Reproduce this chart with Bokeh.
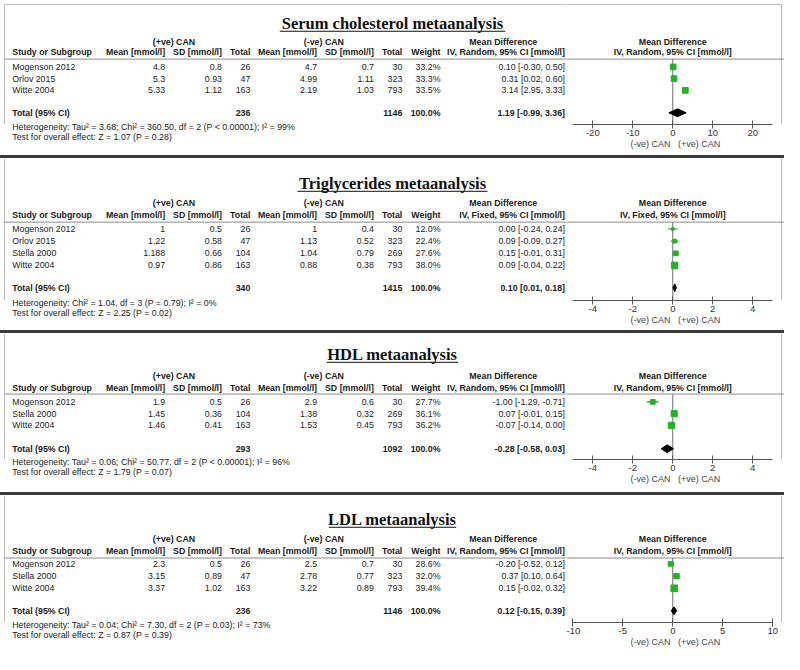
from bokeh.plotting import figure
from bokeh.models import Range1d, LinearAxis, ColumnDataSource, FixedTicker, Title
from bokeh.layouts import column, row
from bokeh.core.properties import value
from bokeh.embed import file_html
from bokeh.resources import INLINE

# ---------------- data ----------------
chol_studies = ["Mogenson 2012", "Orlov 2015", "Witte 2004"]
chol_pos_mean = [4.8, 5.3, 5.33]
chol_pos_sd = [0.8, 0.93, 1.12]
chol_pos_n = [26, 47, 163]
chol_neg_mean = [4.7, 4.99, 2.19]
chol_neg_sd = [0.7, 1.11, 1.03]
chol_neg_n = [30, 323, 793]
chol_weight = [33.2, 33.3, 33.5]
chol_md = [0.10, 0.31, 3.14]
chol_lo = [-0.30, 0.02, 2.95]
chol_hi = [0.50, 0.60, 3.33]
chol_total_n = [236, 1146]
chol_total = [1.19, -0.99, 3.36]
chol_ticks = [-20, -10, 0, 10, 20]
chol_bounds = [-25, 25]

tg_studies = ["Mogenson 2012", "Orlov 2015", "Stella 2000", "Witte 2004"]
tg_pos_mean = [1, 1.22, 1.188, 0.97]
tg_pos_sd = [0.5, 0.58, 0.66, 0.86]
tg_pos_n = [26, 47, 104, 163]
tg_neg_mean = [1, 1.13, 1.04, 0.88]
tg_neg_sd = [0.4, 0.52, 0.79, 0.38]
tg_neg_n = [30, 323, 269, 793]
tg_weight = [12.0, 22.4, 27.6, 38.0]
tg_md = [0.00, 0.09, 0.15, 0.09]
tg_lo = [-0.24, -0.09, -0.01, -0.04]
tg_hi = [0.24, 0.27, 0.31, 0.22]
tg_total_n = [340, 1415]
tg_total = [0.10, 0.01, 0.18]
tg_ticks = [-4, -2, 0, 2, 4]
tg_bounds = [-5, 5]

hdl_studies = ["Mogenson 2012", "Stella 2000", "Witte 2004"]
hdl_pos_mean = [1.9, 1.45, 1.46]
hdl_pos_sd = [0.5, 0.36, 0.41]
hdl_pos_n = [26, 104, 163]
hdl_neg_mean = [2.9, 1.38, 1.53]
hdl_neg_sd = [0.6, 0.32, 0.45]
hdl_neg_n = [30, 269, 793]
hdl_weight = [27.7, 36.1, 36.2]
hdl_md = [-1.00, 0.07, -0.07]
hdl_lo = [-1.29, -0.01, -0.14]
hdl_hi = [-0.71, 0.15, 0.00]
hdl_total_n = [293, 1092]
hdl_total = [-0.28, -0.58, 0.03]
hdl_ticks = [-4, -2, 0, 2, 4]
hdl_bounds = [-5, 5]

ldl_studies = ["Mogenson 2012", "Stella 2000", "Witte 2004"]
ldl_pos_mean = [2.3, 3.15, 3.37]
ldl_pos_sd = [0.5, 0.89, 1.02]
ldl_pos_n = [26, 47, 163]
ldl_neg_mean = [2.5, 2.78, 3.22]
ldl_neg_sd = [0.7, 0.77, 0.89]
ldl_neg_n = [30, 323, 793]
ldl_weight = [28.6, 32.0, 39.4]
ldl_md = [-0.20, 0.37, 0.15]
ldl_lo = [-0.52, 0.10, -0.02]
ldl_hi = [0.12, 0.64, 0.32]
ldl_total_n = [236, 1146]
ldl_total = [0.12, -0.15, 0.39]
ldl_ticks = [-10, -5, 0, 5, 10]
ldl_bounds = [-10, 10]

titles = ["Serum cholesterol metaanalysis", "Triglycerides metaanalysis",
          "HDL metaanalysis", "LDL metaanalysis"]
methods = ["IV, Random, 95% CI [mmol/l]", "IV, Fixed, 95% CI [mmol/l]",
           "IV, Random, 95% CI [mmol/l]", "IV, Random, 95% CI [mmol/l]"]
heterogeneity = [
    "Heterogeneity: Tau² = 3.68; Chi² = 360.50, df = 2 (P < 0.00001); I² = 99%",
    "Heterogeneity: Chi² = 1.04, df = 3 (P = 0.79); I² = 0%",
    "Heterogeneity: Tau² = 0.06; Chi² = 50.77, df = 2 (P < 0.00001); I² = 96%",
    "Heterogeneity: Tau² = 0.04; Chi² = 7.30, df = 2 (P = 0.03); I² = 73%",
]
overall = [
    "Test for overall effect: Z = 1.07 (P = 0.28)",
    "Test for overall effect: Z = 2.25 (P = 0.02)",
    "Test for overall effect: Z = 1.79 (P = 0.07)",
    "Test for overall effect: Z = 0.87 (P = 0.39)",
]
group_labels = ["(+ve) CAN", "(-ve) CAN"]
axis_caption = "(-ve) CAN\u00a0\u00a0\u00a0(+ve) CAN"

panels = [
    dict(studies=chol_studies, pm=chol_pos_mean, psd=chol_pos_sd, pn=chol_pos_n,
         nm=chol_neg_mean, nsd=chol_neg_sd, nn=chol_neg_n, w=chol_weight,
         md=chol_md, lo=chol_lo, hi=chol_hi, tn=chol_total_n, tot=chol_total,
         ticks=chol_ticks, bounds=chol_bounds),
    dict(studies=tg_studies, pm=tg_pos_mean, psd=tg_pos_sd, pn=tg_pos_n,
         nm=tg_neg_mean, nsd=tg_neg_sd, nn=tg_neg_n, w=tg_weight,
         md=tg_md, lo=tg_lo, hi=tg_hi, tn=tg_total_n, tot=tg_total,
         ticks=tg_ticks, bounds=tg_bounds),
    dict(studies=hdl_studies, pm=hdl_pos_mean, psd=hdl_pos_sd, pn=hdl_pos_n,
         nm=hdl_neg_mean, nsd=hdl_neg_sd, nn=hdl_neg_n, w=hdl_weight,
         md=hdl_md, lo=hdl_lo, hi=hdl_hi, tn=hdl_total_n, tot=hdl_total,
         ticks=hdl_ticks, bounds=hdl_bounds),
    dict(studies=ldl_studies, pm=ldl_pos_mean, psd=ldl_pos_sd, pn=ldl_pos_n,
         nm=ldl_neg_mean, nsd=ldl_neg_sd, nn=ldl_neg_n, w=ldl_weight,
         md=ldl_md, lo=ldl_lo, hi=ldl_hi, tn=ldl_total_n, tot=ldl_total,
         ticks=ldl_ticks, bounds=ldl_bounds),
]

# ---------------- layout (reference pixel units, per panel) ----------------
S = 0.98
LEFT_W = 566           # px of the table figure
RIGHT_W = 218          # px of the forest figure
LEFT_REF = LEFT_W / S  # reference-pixel width of table part
XMAX = 800
ZERO_X, AX_L, AX_R = 686, 584, 788
COLX = dict(study=12, pm=168, psd=226, pn=255, nm=323, nsd=381, nn=410, w=449, ci=576)
LAYOUTS = [
    dict(tm=23.5, ul=31.5, ulw=230, group=42, header=53, line=60, row0=68, step=12, total=115,
         axis=127, H=158, top=4),
    dict(tm=25.5, ul=33.5, ulw=194, group=45, header=58, line=65, row0=72, step=12.4, total=132,
         axis=145, H=176, top=0),
    dict(tm=21.5, ul=29.5, ulw=134, group=43, header=56, line=62, row0=70, step=12, total=118,
         axis=129, H=162, top=0),
    dict(tm=24.5, ul=32.5, ulw=130, group=45, header=57, line=64, row0=70, step=12.5, total=118,
         axis=130, H=162, top=0),
]
NOTE_STANDOFFS = [-10, 7]   # spacing of the two footnote lines below the table frame

SANS = "Liberation Sans"
FS = "8.8px"
TXT = "#222222"
BORDER = "#b8b8b8"
GREEN = "#22b422"
GREEN_LINE = "#1f8f1f"


def g(v):
    return f"{v:g}"


def add_cells(p, cells):
    for (align, bold), c in cells.items():
        p.text(x="x", y="y", text="text", source=ColumnDataSource(c),
               text_font=value(SANS), text_font_size=FS,
               text_font_style="bold" if bold else "normal",
               text_align=align, text_baseline="middle",
               text_color="#1a1a1a" if bold else TXT)


def collector():
    cells = {}

    def add(x, y, t, align, bold=False):
        c = cells.setdefault((align, bold), dict(x=[], y=[], text=[]))
        c["x"].append(x)
        c["y"].append(y)
        c["text"].append(t)
    return cells, add


def base_fig(width, x_range, ax_y, frame_h, fig_h):
    p = figure(frame_width=width, frame_height=frame_h,
               x_range=x_range, y_range=Range1d(ax_y, 0),
               x_axis_location=None, y_axis_location=None, toolbar_location=None,
               output_backend="svg", min_border_left=0, min_border_right=0,
               min_border_top=0, min_border_bottom=fig_h - frame_h,
               outline_line_color=None, border_fill_color="white",
               background_fill_color="white")
    p.xgrid.visible = False
    p.ygrid.visible = False
    return p


def build(i):
    d = panels[i]
    lay = LAYOUTS[i]
    H = lay["H"]
    ax_y = lay["axis"]
    fig_h = round(S * H)
    frame_h = round(S * ax_y)
    rows = [lay["row0"] + k * lay["step"] for k in range(len(d["studies"]))]
    ty = lay["total"]
    tot = d["tot"]

    # ---------- table figure ----------
    t = base_fig(LEFT_W, Range1d(0, LEFT_REF), ax_y, frame_h, fig_h)
    t.segment(x0=[4], x1=[4], y0=[lay["top"]], y1=[ax_y], line_color=BORDER, line_width=1)
    if lay["top"] > 0:
        t.segment(x0=[4], x1=[LEFT_REF], y0=[lay["top"]], y1=[lay["top"]],
                  line_color=BORDER, line_width=1)
    t.text(x=[400], y=[lay["tm"]], text=[titles[i]], text_font=value("Liberation Serif"),
           text_font_style="bold", text_font_size="16.5px", text_align="center",
           text_baseline="middle", text_color="#111111")
    t.segment(x0=[400 - lay["ulw"] / 2], x1=[400 + lay["ulw"] / 2],
              y0=[lay["ul"]], y1=[lay["ul"]], line_color="#111111", line_width=1)
    t.segment(x0=[4], x1=[LEFT_REF], y0=[lay["line"]], y1=[lay["line"]],
              line_color="#8c8c8c", line_width=1)

    cells, add = collector()
    gy, hy = lay["group"], lay["header"]
    add(177, gy, group_labels[0], "center", True)
    add(330, gy, group_labels[1], "center", True)
    add(513, gy, "Mean Difference", "center", True)
    add(COLX["study"], hy, "Study or Subgroup", "left", True)
    add(COLX["pm"], hy, "Mean [mmol/l]", "right", True)
    add(COLX["psd"], hy, "SD [mmol/l]", "right", True)
    add(COLX["pn"], hy, "Total", "right", True)
    add(COLX["nm"], hy, "Mean [mmol/l]", "right", True)
    add(COLX["nsd"], hy, "SD [mmol/l]", "right", True)
    add(COLX["nn"], hy, "Total", "right", True)
    add(COLX["w"], hy, "Weight", "right", True)
    add(COLX["ci"], hy, methods[i], "right", True)
    for k, yy in enumerate(rows):
        add(COLX["study"], yy, d["studies"][k], "left")
        add(COLX["pm"], yy, g(d["pm"][k]), "right")
        add(COLX["psd"], yy, g(d["psd"][k]), "right")
        add(COLX["pn"], yy, str(d["pn"][k]), "right")
        add(COLX["nm"], yy, g(d["nm"][k]), "right")
        add(COLX["nsd"], yy, g(d["nsd"][k]), "right")
        add(COLX["nn"], yy, str(d["nn"][k]), "right")
        add(COLX["w"], yy, f"{d['w'][k]:.1f}%", "right")
        add(COLX["ci"], yy, f"{d['md'][k]:.2f} [{d['lo'][k]:.2f}, {d['hi'][k]:.2f}]", "right")
    add(COLX["study"], ty, "Total (95% CI)", "left", True)
    add(COLX["pn"], ty, str(d["tn"][0]), "right", True)
    add(COLX["nn"], ty, str(d["tn"][1]), "right", True)
    add(COLX["w"], ty, f"{sum(d['w']):.1f}%", "right", True)
    add(COLX["ci"], ty, f"{tot[0]:.2f} [{tot[1]:.2f}, {tot[2]:.2f}]", "right", True)
    add_cells(t, cells)

    # heterogeneity / overall effect lines sit below the frame
    for txt, so in zip((heterogeneity[i], overall[i]), NOTE_STANDOFFS):
        t.add_layout(Title(text=txt, align="left", offset=COLX["study"] * S, standoff=so,
                           text_font=SANS, text_font_size=FS, text_font_style="normal",
                           text_color=TXT), "below")

    # ---------- forest figure ----------
    lo_b, hi_b = d["bounds"]
    span = hi_b - lo_b

    def md_of(xref):
        return (xref - ZERO_X) * span / (AX_R - AX_L)

    f = base_fig(RIGHT_W, Range1d(md_of(LEFT_REF), md_of(XMAX)), ax_y, frame_h, fig_h)
    f.segment(x0=[md_of(797)], x1=[md_of(797)], y0=[lay["top"]], y1=[ax_y],
              line_color=BORDER, line_width=1)
    if lay["top"] > 0:
        f.segment(x0=[md_of(LEFT_REF)], x1=[md_of(797)], y0=[lay["top"]], y1=[lay["top"]],
                  line_color=BORDER, line_width=1)
    f.segment(x0=[md_of(LEFT_REF)], x1=[md_of(XMAX)], y0=[lay["line"]], y1=[lay["line"]],
              line_color="#8c8c8c", line_width=1)
    fcells, fadd = collector()
    fadd(0, gy, "Mean Difference", "center", True)
    fadd(0, hy, methods[i], "center", True)
    add_cells(f, fcells)

    f.segment(x0=[0], x1=[0], y0=[lay["line"]], y1=[ax_y],
              line_color="#6e6e6e", line_width=1)
    f.segment(x0=d["lo"], x1=d["hi"], y0=rows, y1=rows,
              line_color=GREEN_LINE, line_width=1.2)
    f.scatter(x=d["md"], y=rows, marker="square",
              size=[max(2.5, w * 0.17) for w in d["w"]],
              fill_color=GREEN, line_color=GREEN)
    f.patch(x=[tot[1], tot[0], tot[2], tot[0]], y=[ty, ty - 4, ty, ty + 4],
            fill_color="black", line_color="black", line_width=1)

    ax = LinearAxis(bounds=(lo_b, hi_b), ticker=FixedTicker(ticks=d["ticks"]))
    ax.major_label_overrides = {tk: str(tk) for tk in d["ticks"]}
    ax.minor_tick_line_color = None
    ax.major_tick_in = 4
    ax.major_tick_out = 4
    ax.major_label_standoff = 1
    ax.axis_line_color = "#555555"
    ax.major_tick_line_color = "#555555"
    ax.major_label_text_font = SANS
    ax.major_label_text_font_size = "9.5px"
    ax.major_label_text_color = "#333333"
    ax.axis_label = axis_caption
    ax.axis_label_text_font = SANS
    ax.axis_label_text_font_size = "9px"
    ax.axis_label_text_font_style = "normal"
    ax.axis_label_text_color = "#444444"
    ax.axis_label_standoff = 0
    f.add_layout(ax, "below")

    return row(t, f, spacing=0, styles={"background-color": "white"})


panel_rows = [build(i) for i in range(4)]
layout = column(*panel_rows, spacing=3, styles={"background-color": "#3a3a3a"})

open("out.html", "w").write(file_html(layout, INLINE))
